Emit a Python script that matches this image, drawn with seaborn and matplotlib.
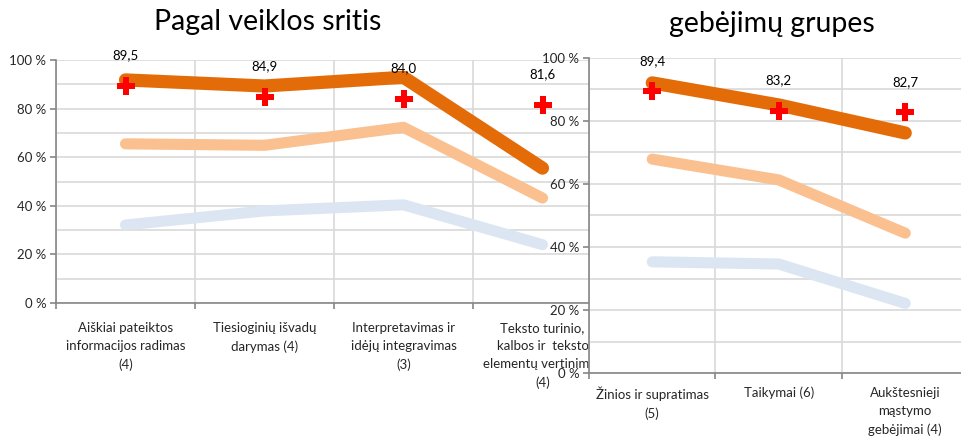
import matplotlib as mpl
import matplotlib.pyplot as plt
import numpy as np
import seaborn as sns

# ---- data ----
areas = [
    "Aiškiai pateiktos\ninformacijos radimas\n(4)",
    "Tiesioginių išvadų\ndarymas (4)",
    "Interpretavimas ir\nidėjų integravimas\n(3)",
    "Teksto turinio,\nkalbos ir  teksto\nelementų vertinimas\n(4)",
]
areas_high = [91.8, 89.3, 92.9, 55.5]
areas_mid = [65.5, 64.9, 72.3, 43.2]
areas_low = [32.1, 37.9, 40.4, 24.0]
areas_cross = [89.5, 84.9, 84.0, 81.6]

skills = [
    "Žinios ir supratimas\n(5)",
    "Taikymai (6)",
    "Aukštesnieji\nmąstymo\ngebėjimai (4)",
]
skills_high = [92.1, 85.1, 76.2]
skills_mid = [67.9, 61.3, 44.4]
skills_low = [35.3, 34.6, 22.1]
skills_cross = [89.4, 83.2, 82.7]

DARK = "#E36C09"
LIGHT = "#FAC090"
BLUE = "#DCE6F2"
GRID = "#D9D9D9"
AXIS = "#868686"

sns.set_theme(style="white")
mpl.rcParams["font.family"] = ["Lato", "DejaVu Sans"]
mpl.rcParams["text.color"] = "black"

W, H = 962, 446
fig = plt.figure(figsize=(W / 100, H / 100), dpi=100)


def px_box(x0, y_top, x1, y_bot):
    return [x0 / W, 1 - y_bot / H, (x1 - x0) / W, (y_bot - y_top) / H]


def draw(ax, cats, low, mid, high, cross, xpad):
    n = len(cats)
    sns.lineplot(x=cats, y=low, ax=ax, color=BLUE, linewidth=8, solid_capstyle="round", sort=False)
    sns.lineplot(x=cats, y=mid, ax=ax, color=LIGHT, linewidth=8, solid_capstyle="round", sort=False)
    sns.lineplot(x=cats, y=high, ax=ax, color=DARK, linewidth=9.5, solid_capstyle="round", sort=False)
    sns.scatterplot(x=cats, y=cross, ax=ax, color="#FF0000", marker="P", s=180,
                    linewidth=0, zorder=5)
    for i, v in enumerate(cross):
        ax.annotate(f"{v:.1f}".replace(".", ","), (i, v), xytext=(0, 22),
                    textcoords="offset points", ha="center", va="center", fontsize=9.5)

    ax.set_xlim(-0.5, n - 0.5)
    ax.set_ylim(0, 100)
    ax.set_yticks(np.arange(0, 101, 20))
    ax.set_yticklabels([f"{t} %" for t in range(0, 101, 20)])
    ax.set_yticks(np.arange(10, 100, 20), minor=True)
    ax.set_xticks(np.arange(n))
    ax.set_xticklabels(cats, linespacing=1.6)
    ax.set_xticks(np.arange(n + 1) - 0.5, minor=True)
    ax.set_xlabel("")
    ax.set_ylabel("")

    ax.grid(True, which="both", axis="y", color=GRID, linewidth=1.2)
    ax.grid(True, which="minor", axis="x", color=GRID, linewidth=1.2)
    ax.grid(False, which="major", axis="x")
    ax.set_axisbelow(True)

    for s in ["top", "right"]:
        ax.spines[s].set_visible(False)
    for s in ["left", "bottom"]:
        ax.spines[s].set_color(AXIS)
        ax.spines[s].set_linewidth(1.2)

    ax.tick_params(axis="y", which="major", left=True, length=4, width=1.2, color=AXIS,
                   labelsize=9.5, pad=3)
    ax.tick_params(axis="y", which="minor", left=False)
    ax.tick_params(axis="x", which="major", bottom=False, labelsize=9.5, pad=xpad)
    ax.tick_params(axis="x", which="minor", bottom=True, length=4, width=1.2, color=AXIS)


ax1 = fig.add_axes(px_box(56, 60, 612, 303))
ax1.set_zorder(0)
draw(ax1, areas, areas_low, areas_mid, areas_high, areas_cross, xpad=8)

# white panel of the second chart, covering the right end of the first one
bg = fig.add_axes(px_box(588, 0, W, H))
bg.set_zorder(1)
bg.set_facecolor("white")
bg.axis("off")
bg.patch.set_visible(True)

ax2 = fig.add_axes(px_box(589, 58, 589 + 3 * 126.5, 373))
ax2.set_zorder(2)
ax2.set_facecolor("white")
draw(ax2, skills, skills_low, skills_mid, skills_high, skills_cross, xpad=4)

fig.text(268 / W, 1 - 22 / H, "Pagal veiklos sritis", ha="center", va="center", fontsize=20.5)
fig.text(772 / W, 1 - 24 / H, "gebėjimų grupes", ha="center", va="center", fontsize=20.5)

fig.savefig("out.png", dpi=100)
